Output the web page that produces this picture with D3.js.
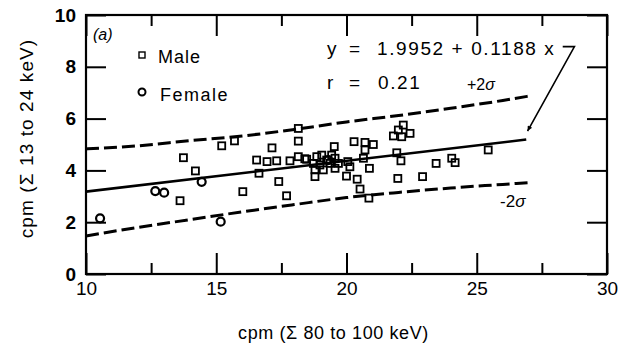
<!DOCTYPE html>
<html lang="en">
<head>
<meta charset="UTF-8">
<title>cpm scatter (a)</title>
<script src="https://cdn.jsdelivr.net/npm/d3@7"></script>
<style>
    body { margin: 0; background: #fff; }
    svg { display: block; font-family: "Liberation Sans", Arial, Helvetica, sans-serif; }
    .axis text { fill: #000; }
    .axis line { stroke: #000; stroke-width: 2; }
</style>
</head>
<body>
<div id="chart"></div>
<script>
    // ---- data ----
    const xMajor = [10, 15, 20, 25, 30];
    const xMinor = [12.5, 17.5, 22.5, 27.5];
    const yMajor = [0, 2, 4, 6, 8, 10];

    const maleX = [13.74, 14.2, 13.61, 15.21, 15.7, 16.02, 17.14, 16.55, 16.64, 16.95,
        17.32, 17.4, 17.7, 18.15, 18.15, 17.83, 18.15, 18.47, 18.79, 19.53,
        18.86, 19.05, 19.43, 19.24, 19.37, 19.56, 19.69, 18.98, 18.79, 19.11,
        19.56, 18.73, 20.05, 20.13, 20.0, 20.41, 20.52, 20.86, 20.29, 20.71,
        21.03, 20.71, 20.65, 20.88, 22.18, 21.99, 21.8, 22.12, 22.44, 21.93,
        22.09, 21.97, 22.92, 23.44, 24.04, 24.17, 25.44, 18.4];
    const maleY = [4.49, 3.98, 2.83, 4.95, 5.14, 3.18, 4.87, 4.4, 3.89, 4.34,
        4.37, 3.57, 3.02, 5.62, 5.13, 4.37, 4.53, 4.43, 3.76, 4.92,
        4.53, 4.59, 4.59, 4.4, 4.27, 4.47, 4.27, 4.21, 4.02, 4.02,
        4.08, 4.27, 4.34, 4.14, 3.78, 3.66, 3.28, 2.93, 5.11, 5.08,
        5.0, 4.79, 4.47, 4.08, 5.75, 5.56, 5.33, 5.3, 5.43, 4.68,
        4.37, 3.69, 3.76, 4.27, 4.47, 4.3, 4.79, 4.45];

    const femaleX = [10.54, 12.66, 13.0, 14.44, 15.17, 19.3];
    const femaleY = [2.15, 3.2, 3.14, 3.56, 2.02, 4.4];

    // regression line y = 1.9952 + 0.1188 x, drawn from 10 to 27
    const fitX = [10, 26.9];
    const fitY = [3.18, 5.19];

    // +/- 2 sigma bands
    const bandX = [10, 12, 14, 16, 18, 20, 22, 24, 26, 27];
    const upperY = [4.83, 4.95, 5.15, 5.33, 5.58, 5.87, 6.12, 6.4, 6.7, 6.87];
    const lowerY = [1.47, 1.8, 2.1, 2.4, 2.68, 2.95, 3.15, 3.32, 3.46, 3.53];

    // arrow from the equation to the end of the fit line
    const arrowPts = [[28.3, 8.78], [28.75, 8.78], [26.95, 5.52]];

    // ---- svg setup ----
    const width = 624, height = 348;
    const margin = { top: 15, right: 17, bottom: 74, left: 86 };
    const innerW = width - margin.left - margin.right;
    const innerH = height - margin.top - margin.bottom;

    const svg = d3.select("#chart").append("svg")
        .attr("width", width)
        .attr("height", height);
    const g = svg.append("g")
        .attr("transform", `translate(${margin.left},${margin.top})`);

    const x = d3.scaleLinear().domain([10, 30]).range([0, innerW]);
    const y = d3.scaleLinear().domain([0, 10]).range([innerH, 0]);

    // ---- axes (ticks point inward on all four sides) ----
    const axBottom = g.append("g").attr("class", "axis")
        .attr("transform", `translate(0,${innerH})`)
        .call(d3.axisBottom(x).tickValues(xMajor).tickSize(-21).tickPadding(8).tickFormat(d3.format("d")));
    axBottom.append("g")
        .call(d3.axisBottom(x).tickValues(xMinor).tickSize(-11).tickFormat(""));
    axBottom.selectAll("text").attr("font-size", 19);

    const axTop = g.append("g").attr("class", "axis")
        .call(d3.axisTop(x).tickValues(xMajor).tickSize(-21).tickFormat(""));
    axTop.append("g")
        .call(d3.axisTop(x).tickValues(xMinor).tickSize(-11).tickFormat(""));

    const axLeft = g.append("g").attr("class", "axis")
        .call(d3.axisLeft(y).tickValues(yMajor).tickSize(-20).tickPadding(10));
    axLeft.selectAll("text").attr("font-size", 19).attr("font-weight", "bold");

    g.append("g").attr("class", "axis")
        .attr("transform", `translate(${innerW},0)`)
        .call(d3.axisRight(y).tickValues(yMajor).tickSize(-20).tickFormat(""));

    g.selectAll(".axis .domain").remove();

    g.append("rect")
        .attr("width", innerW)
        .attr("height", innerH)
        .attr("fill", "none")
        .attr("stroke", "#000")
        .attr("stroke-width", 2.2);

    // ---- lines ----
    const line = d3.line().x(d => x(d[0])).y(d => y(d[1])).curve(d3.curveMonotoneX);

    g.append("path")
        .datum(fitX.map((v, i) => [v, fitY[i]]))
        .attr("fill", "none")
        .attr("stroke", "#000")
        .attr("stroke-width", 2.6)
        .attr("d", line);

    [upperY, lowerY].forEach(band => {
        g.append("path")
            .datum(bandX.map((v, i) => [v, band[i]]))
            .attr("fill", "none")
            .attr("stroke", "#000")
            .attr("stroke-width", 3)
            .attr("stroke-dasharray", "13 5")
            .attr("d", line);
    });

    // arrow
    svg.append("defs").append("marker")
        .attr("id", "head")
        .attr("viewBox", "0 0 10 10")
        .attr("refX", 10).attr("refY", 5)
        .attr("markerWidth", 9).attr("markerHeight", 5)
        .attr("markerUnits", "userSpaceOnUse")
        .attr("orient", "auto")
        .append("path").attr("d", "M0,0L10,5L0,10z").attr("fill", "#000");

    g.append("path")
        .datum(arrowPts)
        .attr("fill", "none")
        .attr("stroke", "#000")
        .attr("stroke-width", 1.6)
        .attr("marker-end", "url(#head)")
        .attr("d", d3.line().x(d => x(d[0])).y(d => y(d[1])));

    // ---- points ----
    const sq = 7;
    g.append("g").selectAll("rect")
        .data(maleX.map((v, i) => [v, maleY[i]]))
        .join("rect")
        .attr("x", d => x(d[0]) - sq / 2)
        .attr("y", d => y(d[1]) - sq / 2)
        .attr("width", sq)
        .attr("height", sq)
        .attr("fill", "none")
        .attr("stroke", "#000")
        .attr("stroke-width", 1.8);

    g.append("g").selectAll("circle")
        .data(femaleX.map((v, i) => [v, femaleY[i]]))
        .join("circle")
        .attr("cx", d => x(d[0]))
        .attr("cy", d => y(d[1]))
        .attr("r", 4)
        .attr("fill", "none")
        .attr("stroke", "#000")
        .attr("stroke-width", 2.2);

    // ---- text annotations ----
    const txt = (tx, ty, s, size, opts = {}) => svg.append("text")
        .attr("x", tx).attr("y", ty)
        .attr("font-size", size)
        .attr("letter-spacing", opts.ls || 0)
        .attr("font-style", opts.italic ? "italic" : null)
        .attr("text-anchor", opts.anchor || "start")
        .text(s);

    txt(93, 40, "(a)", 16, { italic: true });

    // legend
    svg.append("rect").attr("x", 139).attr("y", 52).attr("width", 6).attr("height", 6)
        .attr("fill", "none").attr("stroke", "#000").attr("stroke-width", 1.4);
    txt(158, 63, "Male", 18, { ls: 1 });
    svg.append("circle").attr("cx", 142).attr("cy", 92).attr("r", 3.5)
        .attr("fill", "none").attr("stroke", "#000").attr("stroke-width", 2);
    txt(160, 101, "Female", 18, { ls: 1.5 });

    // equation
    txt(327, 55, "y", 19);
    txt(349, 55, "=", 19);
    txt(377, 55, "1.9952 + 0.1188 x", 19, { ls: 1.6 });
    txt(327, 89, "r", 19);
    txt(349, 89, "=", 19);
    txt(378, 89, "0.21", 19, { ls: 1.6 });

    const plus = txt(467, 90, "+2", 16);
    plus.append("tspan").attr("font-style", "italic").text("σ");
    const minus = txt(500, 207, "-2", 17);
    minus.append("tspan").attr("font-style", "italic").text("σ");

    // axis titles
    svg.append("text")
        .attr("x", margin.left + innerW / 2 - 13)
        .attr("y", 339)
        .attr("text-anchor", "middle")
        .attr("font-size", 18)
        .attr("letter-spacing", 0.6)
        .text("cpm (Σ 80 to 100 keV)");

    svg.append("text")
        .attr("transform", `translate(33,${margin.top + innerH / 2 - 6}) rotate(-90)`)
        .attr("text-anchor", "middle")
        .attr("font-size", 19)
        .attr("letter-spacing", 1.1)
        .text("cpm (Σ 13 to 24 keV)");
</script>
</body>
</html>
